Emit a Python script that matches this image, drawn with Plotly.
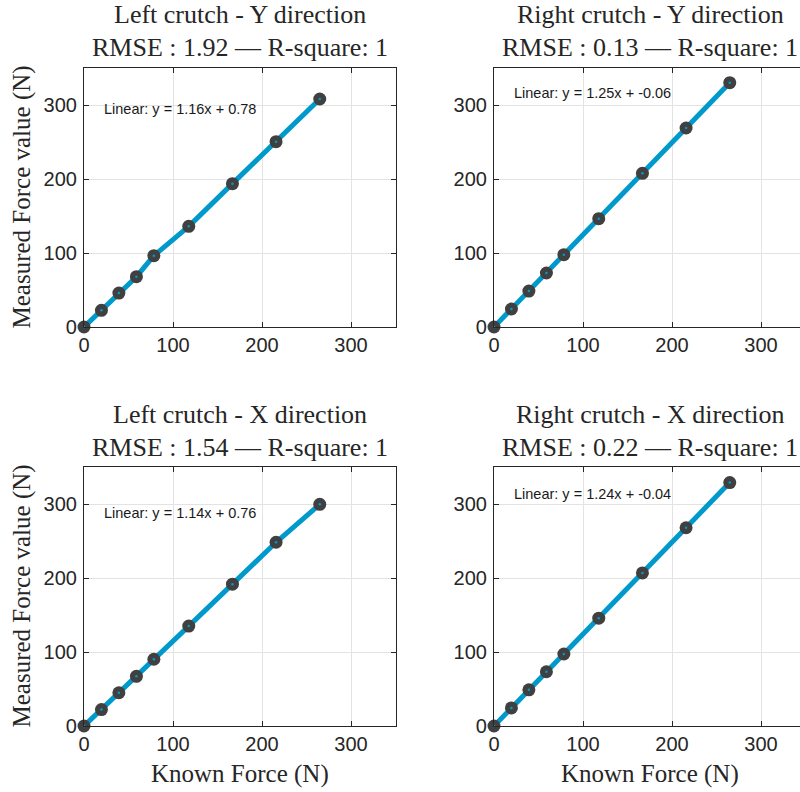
import plotly.graph_objects as go

# Calibration loads (N) and sensor readings (N) for each crutch / axis
known_force = [0, 19.6, 39.2, 58.9, 78.5, 117.7, 166.8, 215.8, 264.9]
left_y = [0, 22.5, 45.9, 68.0, 96.4, 136.0, 193.7, 250.5, 308.1]
right_y = [0, 24.3, 48.6, 73.0, 97.7, 146.4, 207.7, 268.9, 330.2]
left_x = [0, 22.2, 44.9, 67.1, 90.2, 135.0, 191.7, 248.3, 299.5]
right_x = [0, 24.4, 48.9, 73.3, 97.3, 145.7, 206.8, 267.9, 329.0]

panel_titles = ["Left crutch - Y direction", "Right crutch - Y direction",
                "Left crutch - X direction", "Right crutch - X direction"]
rmse_values = [1.92, 0.13, 1.54, 0.22]
r_square = [1, 1, 1, 1]
fit_slopes = [1.16, 1.25, 1.14, 1.24]
fit_offsets = [0.78, -0.06, 0.76, -0.04]
fit_label_y = [295, 316, 288, 313]
series = [left_y, right_y, left_x, right_x]

tick_vals = [0, 100, 200, 300]
x_label = "Known Force (N)"
y_label = "Measured Force value (N)"

W, H = 800, 792
LINE_BLUE = "#0099CC"
MARK_GREY = "#404040"
AX_COL = "#262626"
SERIF = "Liberation Serif"
SANS = "Liberation Sans"

# panel boxes in pixels: (left, right, top, bottom)
boxes = [(84, 396, 68, 327), (494, 800, 68, 327),
         (84, 396, 467, 726), (494, 800, 467, 726)]
px_per_unit_x = 0.89

fig = go.Figure()
layout = dict(width=W, height=H, margin=dict(l=0, r=0, t=0, b=0),
              plot_bgcolor="white", paper_bgcolor="white", showlegend=False,
              annotations=[])

for i, (vals, box) in enumerate(zip(series, boxes)):
    n = i + 1
    xa = "x" if n == 1 else f"x{n}"
    ya = "y" if n == 1 else f"y{n}"
    l, r, t, b = box
    is_right = i % 2 == 1
    x_max = (r - l) / px_per_unit_x
    fig.add_trace(go.Scatter(x=known_force, y=vals, mode="lines",
                             line=dict(color=LINE_BLUE, width=5),
                             xaxis=xa, yaxis=ya, hoverinfo="skip"))
    fig.add_trace(go.Scatter(x=known_force, y=vals, mode="markers",
                             marker=dict(color=MARK_GREY, size=13,
                                         line=dict(width=0)),
                             xaxis=xa, yaxis=ya, cliponaxis=False))
    fig.add_trace(go.Scatter(x=known_force, y=vals, mode="markers",
                             marker=dict(color=LINE_BLUE, size=2.5,
                                         line=dict(width=0)),
                             xaxis=xa, yaxis=ya, cliponaxis=False))

    axis_common = dict(showgrid=True, gridcolor="#E3E3E3", gridwidth=1,
                       showline=True, linecolor=AX_COL, linewidth=1.2,
                       ticks="inside", ticklen=5, tickcolor=AX_COL,
                       tickvals=tick_vals, zeroline=False, automargin=False,
                       tickfont=dict(family=SANS, size=20, color=AX_COL))
    xdict = dict(axis_common, domain=[l / W, r / W], range=[0, x_max],
                 anchor=ya, mirror="ticks")
    ydict = dict(axis_common, domain=[1 - b / H, 1 - t / H], range=[0, 350],
                 anchor=xa, mirror=False if is_right else "ticks",
                 ticklabelstandoff=2)
    layout["xaxis" if n == 1 else f"xaxis{n}"] = xdict
    layout["yaxis" if n == 1 else f"yaxis{n}"] = ydict

    cx = ((l + (806 if is_right else r)) / 2) / W
    layout["annotations"].append(dict(
        text=panel_titles[i], x=cx, y=1 - (t - 53) / H, xref="paper",
        yref="paper", showarrow=False, xanchor="center", yanchor="middle",
        font=dict(family=SERIF, size=26, color=AX_COL)))
    layout["annotations"].append(dict(
        text=f"RMSE : {rmse_values[i]:.2f} \u2014 R-square: {r_square[i]}",
        x=cx, y=1 - (t - 20) / H, xref="paper", yref="paper",
        showarrow=False, xanchor="center", yanchor="middle",
        font=dict(family=SERIF, size=26, color=AX_COL)))
    layout["annotations"].append(dict(
        text=f"Linear: y = {fit_slopes[i]:.2f}x + {fit_offsets[i]:.2f}",
        x=20, y=fit_label_y[i], xref=xa, yref=ya, showarrow=False,
        xanchor="left", yanchor="middle",
        font=dict(family=SANS, size=14.5, color="#1a1a1a")))

    if i >= 2:
        layout["annotations"].append(dict(
            text=x_label, x=cx, y=1 - 774 / H, xref="paper", yref="paper",
            showarrow=False, xanchor="center", yanchor="middle",
            font=dict(family=SERIF, size=25, color=AX_COL)))
    if not is_right:
        layout["annotations"].append(dict(
            text=y_label, x=21 / W, y=1 - ((t + b) / 2) / H, xref="paper",
            yref="paper", showarrow=False, textangle=-90,
            xanchor="center", yanchor="middle",
            font=dict(family=SERIF, size=25, color=AX_COL)))

fig.update_layout(**layout)
fig.write_html("out.html")
